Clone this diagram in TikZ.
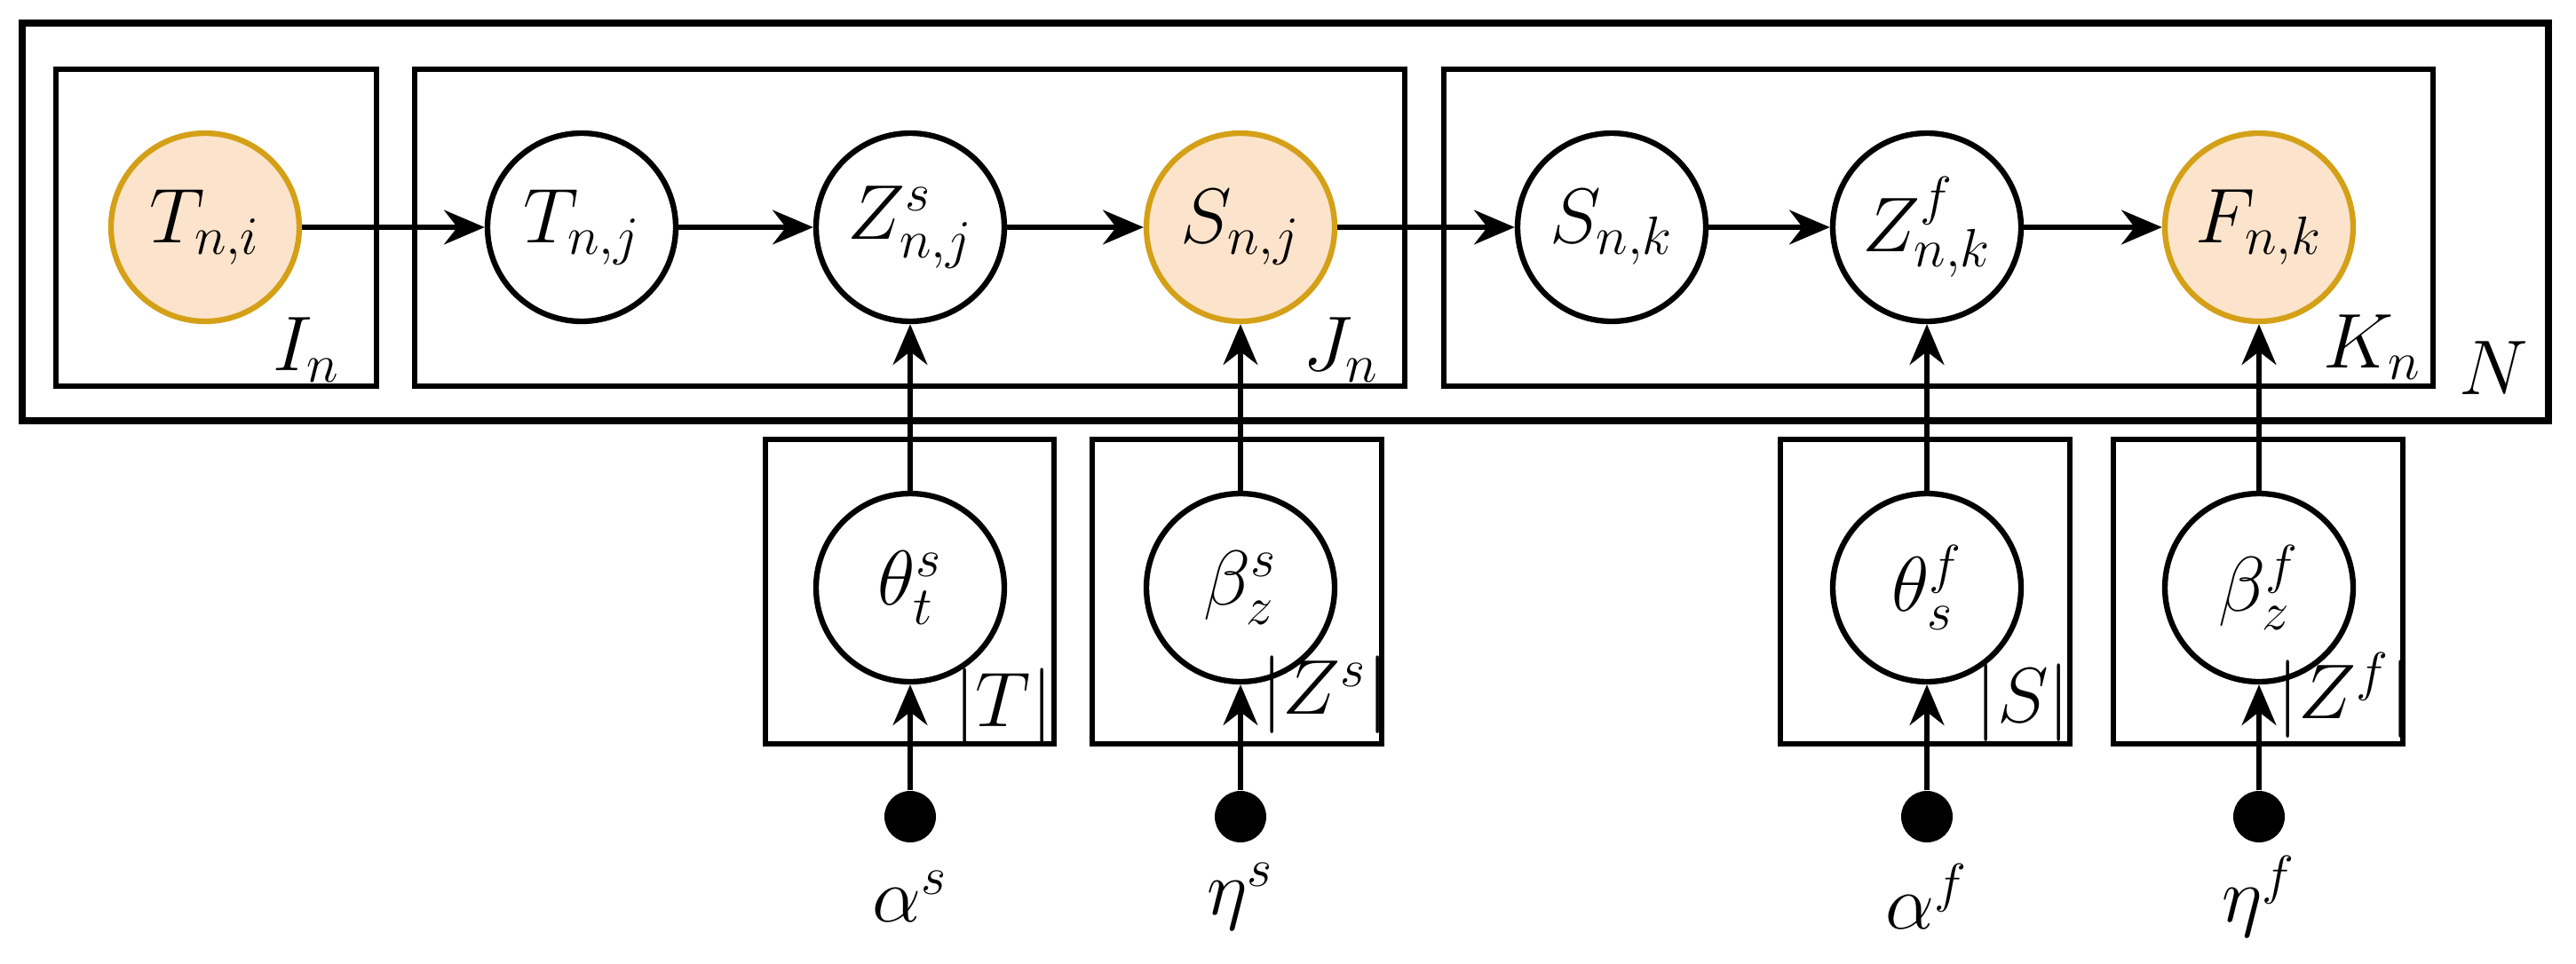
\documentclass[tikz,border=0pt]{standalone}
\usetikzlibrary{arrows.meta,shapes.geometric}
\definecolor{obsfill}{RGB}{252,228,204}
\definecolor{obsdraw}{RGB}{212,160,23}
\begin{document}
\begin{tikzpicture}[
  font=\fontsize{23}{27}\selectfont,
  var/.style={circle,draw,line width=1.8pt,minimum size=2.12cm,inner sep=0pt},
  obs/.style={var,draw=obsdraw,fill=obsfill},
  dot/.style={circle,fill=black,minimum size=0.58cm,inner sep=0pt},
  plate/.style={draw,line width=1.8pt},
  arr/.style={-{Stealth[length=13pt,width=11pt]},line width=1.8pt},
  lab/.style={inner sep=0pt}
]
\useasboundingbox (0,0) rectangle (29.01,-10.85);
% plates
\draw[plate,line width=2.3pt] (0.25,-0.26) rectangle (28.70,-4.74);
\draw[plate] (0.63,-0.78) rectangle (4.24,-4.35);
\draw[plate] (4.67,-0.78) rectangle (15.82,-4.35);
\draw[plate] (16.26,-0.78) rectangle (27.40,-4.35);
\draw[plate] (8.62,-4.95) rectangle (11.87,-8.38);
\draw[plate] (12.30,-4.95) rectangle (15.56,-8.38);
\draw[plate] (20.05,-4.95) rectangle (23.31,-8.38);
\draw[plate] (23.80,-4.95) rectangle (27.06,-8.38);
% plate labels
\node[lab] (lI) at (3.45,-3.94) {$I_n$};
\node[lab] (lJ) at (15.10,-3.94) {$J_n$};
\node[lab] (lK) at (26.72,-3.91) {$K_n$};
\node[lab] (lN) at (28.08,-4.15) {$N$};
\node[lab] (lT) at (11.30,-7.97) {$|T|$};
\node[lab] (lZs) at (14.92,-7.83) {$|Z^s|$};
\node[lab] (lS) at (22.78,-7.92) {$|S|$};
\node[lab] (lZf) at (26.40,-7.83) {$|Z^f|$};
% top nodes
\node[obs] (Tni) at (2.31,-2.56) {$T_{n,i}$};
\node[var] (Tnj) at (6.55,-2.56) {$T_{n,j}$};
\node[var] (Zs) at (10.25,-2.56) {$Z^s_{n,j}$};
\node[obs] (Snj) at (13.97,-2.56) {$S_{n,j}$};
\node[var] (Snk) at (18.15,-2.56) {$S_{n,k}$};
\node[var] (Zf) at (21.70,-2.56) {$Z^f_{n,k}$};
\node[obs] (Fnk) at (25.44,-2.56) {$F_{n,k}$};
% bottom nodes
\node[var] (ths) at (10.25,-6.62) {$\theta^s_t$};
\node[var] (bes) at (13.97,-6.62) {$\beta^s_z$};
\node[var] (thf) at (21.70,-6.62) {$\theta^f_s$};
\node[var] (bef) at (25.44,-6.62) {$\beta^f_z$};
% hyperparameters
\node[dot] (as) at (10.25,-9.20) {};
\node[dot] (es) at (13.97,-9.20) {};
\node[dot] (af) at (21.70,-9.20) {};
\node[dot] (ef) at (25.44,-9.20) {};
\node[lab] (las) at (10.25,-10.10) {$\alpha^s$};
\node[lab] (les) at (13.97,-10.10) {$\eta^s$};
\node[lab] (laf) at (21.70,-10.10) {$\alpha^f$};
\node[lab] (lef) at (25.44,-10.10) {$\eta^f$};
% edges
\draw[arr] (Tni) -- (Tnj);
\draw[arr] (Tnj) -- (Zs);
\draw[arr] (Zs) -- (Snj);
\draw[arr] (Snj) -- (Snk);
\draw[arr] (Snk) -- (Zf);
\draw[arr] (Zf) -- (Fnk);
\draw[arr] (ths) -- (Zs);
\draw[arr] (bes) -- (Snj);
\draw[arr] (thf) -- (Zf);
\draw[arr] (bef) -- (Fnk);
\draw[arr] (as) -- (ths);
\draw[arr] (es) -- (bes);
\draw[arr] (af) -- (thf);
\draw[arr] (ef) -- (bef);
\end{tikzpicture}
\end{document}
